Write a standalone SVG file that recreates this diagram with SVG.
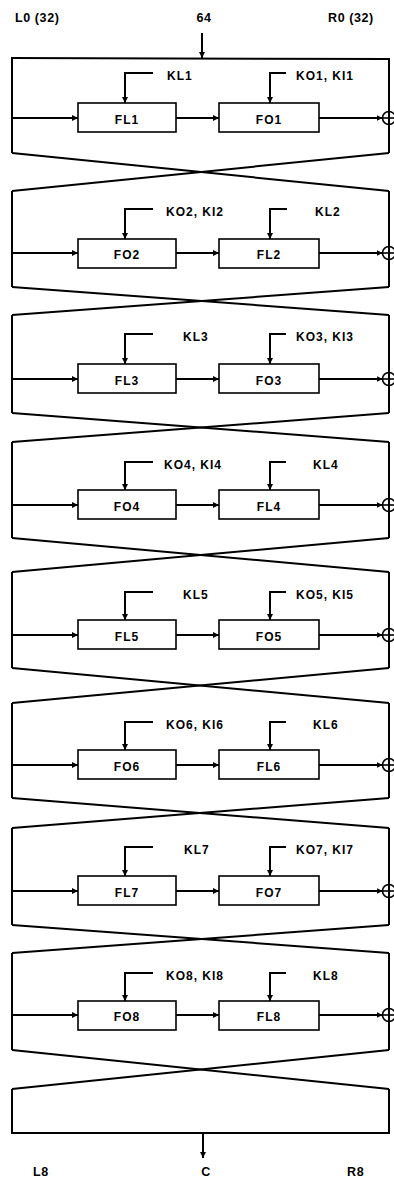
<svg xmlns="http://www.w3.org/2000/svg" width="394" height="1179" viewBox="0 0 394 1179">
<defs>
<marker id="ah" markerUnits="userSpaceOnUse" markerWidth="7" markerHeight="6" refX="6" refY="3" orient="auto">
<path d="M0,0 L6,3 L0,6 z" fill="#000"/>
</marker>
<style>
.fr{fill:none;stroke:#000;stroke-width:2}
.bx{fill:#fff;stroke:#000;stroke-width:1.6}
.ar{fill:none;stroke:#000;stroke-width:2;marker-end:url(#ah)}
.ln{fill:none;stroke:#000;stroke-width:2}
.xo{fill:none;stroke:#000;stroke-width:1.6}
text{font-family:"Liberation Sans",Arial,sans-serif;font-size:12px;font-weight:bold;letter-spacing:1px;fill:#000}
.m{text-anchor:middle}
.io{font-size:12.5px;letter-spacing:0.6px}
</style>
</defs>
<rect width="394" height="1179" fill="#fff"/>

<g id="labels-top">
<text class="io" x="15" y="22">L0 (32)</text>
<text class="io m" x="204" y="22">64</text>
<text class="io" x="328" y="22">R0 (32)</text>
</g>

<g id="round1">
<line class="fr" x1="12" y1="58" x2="12" y2="153"/>
<line class="fr" x1="389" y1="59" x2="389" y2="153"/>
<g id="FL1"><rect class="bx" x="78" y="103" width="98" height="29"/><text class="m" x="127" y="124">FL1</text></g>
<g id="FO1"><rect class="bx" x="219" y="103" width="100" height="29"/><text class="m" x="269" y="124">FO1</text></g>
<circle class="xo" cx="389" cy="118" r="6.5"/>
<text x="167" y="80">KL1</text>
<text x="296" y="80">KO1, KI1</text>
</g>

<g id="round2">
<line class="fr" x1="12" y1="191" x2="12" y2="287"/>
<line class="fr" x1="389" y1="191" x2="389" y2="287"/>
<g id="FO2"><rect class="bx" x="78" y="239" width="98" height="29"/><text class="m" x="127" y="259">FO2</text></g>
<g id="FL2"><rect class="bx" x="219" y="239" width="100" height="29"/><text class="m" x="269" y="259">FL2</text></g>
<circle class="xo" cx="389" cy="253" r="6.5"/>
<text x="166" y="216">KO2, KI2</text>
<text x="315" y="216">KL2</text>
</g>

<g id="round3">
<line class="fr" x1="12" y1="315" x2="12" y2="413"/>
<line class="fr" x1="389" y1="315" x2="389" y2="413"/>
<g id="FL3"><rect class="bx" x="78" y="364" width="98" height="29"/><text class="m" x="127" y="385">FL3</text></g>
<g id="FO3"><rect class="bx" x="219" y="364" width="100" height="29"/><text class="m" x="269" y="385">FO3</text></g>
<circle class="xo" cx="389" cy="379" r="6.5"/>
<text x="183" y="341">KL3</text>
<text x="296" y="341">KO3, KI3</text>
</g>

<g id="round4">
<line class="fr" x1="12" y1="442" x2="12" y2="538"/>
<line class="fr" x1="389" y1="442" x2="389" y2="538"/>
<g id="FO4"><rect class="bx" x="78" y="490" width="98" height="29"/><text class="m" x="127" y="511">FO4</text></g>
<g id="FL4"><rect class="bx" x="219" y="490" width="100" height="29"/><text class="m" x="269" y="511">FL4</text></g>
<circle class="xo" cx="389" cy="505" r="6.5"/>
<text x="164" y="469">KO4, KI4</text>
<text x="313" y="469">KL4</text>
</g>

<g id="round5">
<line class="fr" x1="12" y1="572" x2="12" y2="668"/>
<line class="fr" x1="389" y1="572" x2="389" y2="668"/>
<g id="FL5"><rect class="bx" x="78" y="620" width="98" height="29"/><text class="m" x="127" y="641">FL5</text></g>
<g id="FO5"><rect class="bx" x="219" y="620" width="100" height="29"/><text class="m" x="269" y="641">FO5</text></g>
<circle class="xo" cx="389" cy="635" r="6.5"/>
<text x="183" y="599">KL5</text>
<text x="296" y="599">KO5, KI5</text>
</g>

<g id="round6">
<line class="fr" x1="12" y1="703" x2="12" y2="798"/>
<line class="fr" x1="389" y1="703" x2="389" y2="798"/>
<g id="FO6"><rect class="bx" x="78" y="750" width="98" height="29"/><text class="m" x="127" y="771">FO6</text></g>
<g id="FL6"><rect class="bx" x="219" y="750" width="100" height="29"/><text class="m" x="269" y="771">FL6</text></g>
<circle class="xo" cx="389" cy="765" r="6.5"/>
<text x="166" y="729">KO6, KI6</text>
<text x="313" y="729">KL6</text>
</g>

<g id="round7">
<line class="fr" x1="12" y1="828" x2="12" y2="925"/>
<line class="fr" x1="389" y1="828" x2="389" y2="925"/>
<g id="FL7"><rect class="bx" x="78" y="876" width="98" height="29"/><text class="m" x="127" y="897">FL7</text></g>
<g id="FO7"><rect class="bx" x="219" y="876" width="100" height="29"/><text class="m" x="269" y="897">FO7</text></g>
<circle class="xo" cx="389" cy="891" r="6.5"/>
<text x="184" y="854">KL7</text>
<text x="296" y="854">KO7, KI7</text>
</g>

<g id="round8">
<line class="fr" x1="12" y1="953" x2="12" y2="1050"/>
<line class="fr" x1="389" y1="953" x2="389" y2="1050"/>
<g id="FO8"><rect class="bx" x="78" y="1001" width="98" height="29"/><text class="m" x="127" y="1021">FO8</text></g>
<g id="FL8"><rect class="bx" x="219" y="1001" width="100" height="29"/><text class="m" x="269" y="1021">FL8</text></g>
<circle class="xo" cx="389" cy="1015" r="6.5"/>
<text x="166" y="980">KO8, KI8</text>
<text x="313" y="980">KL8</text>
</g>

<g id="output">
<line class="fr" x1="12" y1="1089" x2="12" y2="1133"/>
<line class="fr" x1="389" y1="1089" x2="389" y2="1133"/>
<line class="fr" x1="11" y1="1133" x2="390" y2="1133"/>
</g>

<g id="labels-bottom">
<text class="io" x="33" y="1176">L8</text>
<text class="io m" x="206" y="1176">C</text>
<text class="io" x="347" y="1176">R8</text>
</g>

<g id="connectors">
<line class="fr" x1="11" y1="58" x2="390" y2="59"/>
<line class="ar" x1="202" y1="33" x2="202" y2="58"/>
<line class="ar" x1="203" y1="1133" x2="203" y2="1158"/>
<!-- crossings -->
<line class="ln" x1="12" y1="153" x2="389" y2="191"/><line class="ln" x1="389" y1="153" x2="12" y2="191"/>
<line class="ln" x1="12" y1="287" x2="389" y2="315"/><line class="ln" x1="389" y1="287" x2="12" y2="315"/>
<line class="ln" x1="12" y1="413" x2="389" y2="442"/><line class="ln" x1="389" y1="413" x2="12" y2="442"/>
<line class="ln" x1="12" y1="538" x2="389" y2="572"/><line class="ln" x1="389" y1="538" x2="12" y2="572"/>
<line class="ln" x1="12" y1="668" x2="389" y2="703"/><line class="ln" x1="389" y1="668" x2="12" y2="703"/>
<line class="ln" x1="12" y1="798" x2="389" y2="828"/><line class="ln" x1="389" y1="798" x2="12" y2="828"/>
<line class="ln" x1="12" y1="925" x2="389" y2="953"/><line class="ln" x1="389" y1="925" x2="12" y2="953"/>
<line class="ln" x1="12" y1="1050" x2="389" y2="1089"/><line class="ln" x1="389" y1="1050" x2="12" y2="1089"/>
<!-- round 1 -->
<line class="ar" x1="12" y1="118" x2="78" y2="118"/><line class="ar" x1="176" y1="118" x2="219" y2="118"/><line class="ar" x1="319" y1="118" x2="382.5" y2="118"/><line class="xo" x1="382.5" y1="118" x2="396" y2="118"/>
<polyline class="ar" points="153,73 125,73 125,103"/><polyline class="ar" points="286,73 270,73 270,103"/>
<!-- round 2 -->
<line class="ar" x1="12" y1="253" x2="78" y2="253"/><line class="ar" x1="176" y1="253" x2="219" y2="253"/><line class="ar" x1="319" y1="253" x2="382.5" y2="253"/><line class="xo" x1="382.5" y1="253" x2="396" y2="253"/>
<polyline class="ar" points="153,209 125,209 125,239"/><polyline class="ar" points="287,209 270,209 270,239"/>
<!-- round 3 -->
<line class="ar" x1="12" y1="379" x2="78" y2="379"/><line class="ar" x1="176" y1="379" x2="219" y2="379"/><line class="ar" x1="319" y1="379" x2="382.5" y2="379"/><line class="xo" x1="382.5" y1="379" x2="396" y2="379"/>
<polyline class="ar" points="153,334 125,334 125,364"/><polyline class="ar" points="286,334 270,334 270,364"/>
<!-- round 4 -->
<line class="ar" x1="12" y1="505" x2="78" y2="505"/><line class="ar" x1="176" y1="505" x2="219" y2="505"/><line class="ar" x1="319" y1="505" x2="382.5" y2="505"/><line class="xo" x1="382.5" y1="505" x2="396" y2="505"/>
<polyline class="ar" points="153,462 125,462 125,490"/><polyline class="ar" points="286,462 270,462 270,490"/>
<!-- round 5 -->
<line class="ar" x1="12" y1="635" x2="78" y2="635"/><line class="ar" x1="176" y1="635" x2="219" y2="635"/><line class="ar" x1="319" y1="635" x2="382.5" y2="635"/><line class="xo" x1="382.5" y1="635" x2="396" y2="635"/>
<polyline class="ar" points="153,592 125,592 125,620"/><polyline class="ar" points="286,592 270,592 270,620"/>
<!-- round 6 -->
<line class="ar" x1="12" y1="765" x2="78" y2="765"/><line class="ar" x1="176" y1="765" x2="219" y2="765"/><line class="ar" x1="319" y1="765" x2="382.5" y2="765"/><line class="xo" x1="382.5" y1="765" x2="396" y2="765"/>
<polyline class="ar" points="153,722 125,722 125,750"/><polyline class="ar" points="286,722 270,722 270,750"/>
<!-- round 7 -->
<line class="ar" x1="12" y1="891" x2="78" y2="891"/><line class="ar" x1="176" y1="891" x2="219" y2="891"/><line class="ar" x1="319" y1="891" x2="382.5" y2="891"/><line class="xo" x1="382.5" y1="891" x2="396" y2="891"/>
<polyline class="ar" points="153,847 125,847 125,876"/><polyline class="ar" points="286,847 270,847 270,876"/>
<!-- round 8 -->
<line class="ar" x1="12" y1="1015" x2="78" y2="1015"/><line class="ar" x1="176" y1="1015" x2="219" y2="1015"/><line class="ar" x1="319" y1="1015" x2="382.5" y2="1015"/><line class="xo" x1="382.5" y1="1015" x2="396" y2="1015"/>
<polyline class="ar" points="153,973 125,973 125,1001"/><polyline class="ar" points="286,973 270,973 270,1001"/>
</g>
</svg>
